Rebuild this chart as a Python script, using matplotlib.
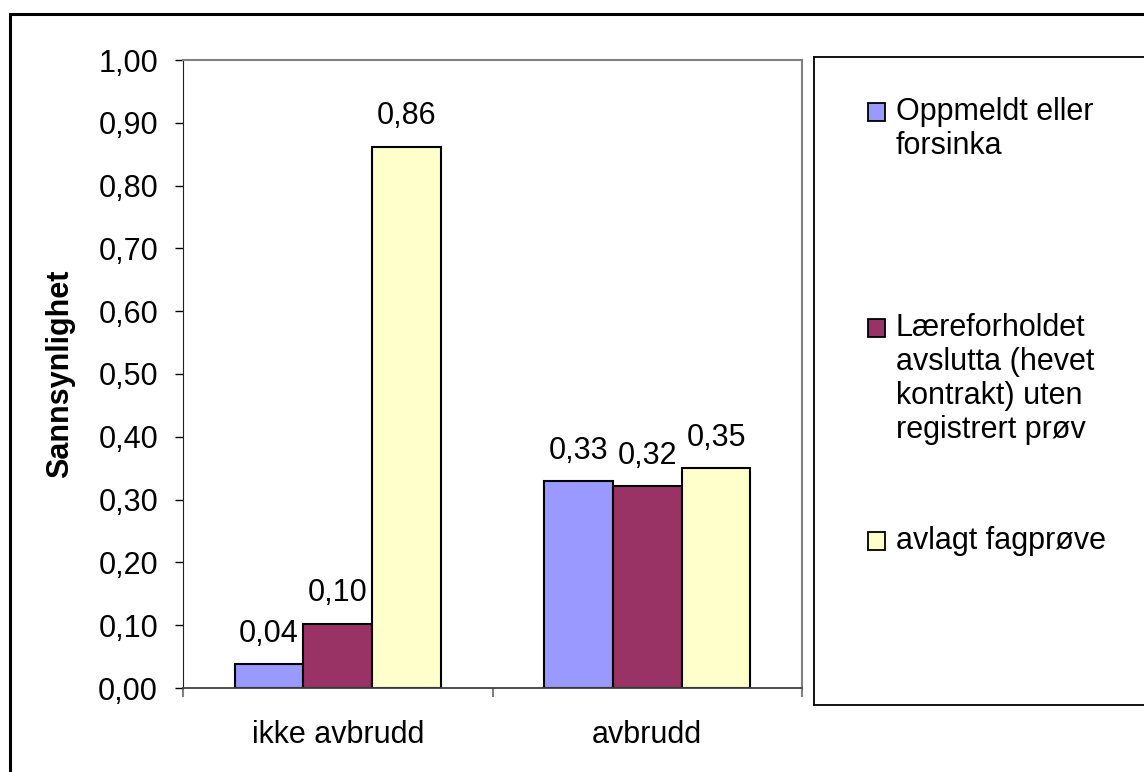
import matplotlib
matplotlib.use("Agg")
import matplotlib.pyplot as plt
from matplotlib.patches import Rectangle
import numpy as np

plt.rcParams['font.family'] = ['Liberation Sans', 'DejaVu Sans']

categories = ["ikke avbrudd", "avbrudd"]
series_names = [
    "Oppmeldt eller\nforsinka",
    "Læreforholdet\navslutta (hevet\nkontrakt) uten\nregistrert prøv",
    "avlagt fagprøve",
]
oppmeldt = [0.038, 0.329]
avslutta = [0.102, 0.321]
fagprove = [0.862, 0.350]
colors = ["#9999FF", "#993366", "#FFFFCC"]
yticks = [0.0, 0.1, 0.2, 0.3, 0.4, 0.5, 0.6, 0.7, 0.8, 0.9, 1.0]

W, H = 1144, 772
FS = 22
fig = plt.figure(figsize=(W / 100, H / 100), dpi=100)

def fbox(x0, y0, x1, y1):
    # picture pixel box -> figure fraction rect
    return [x0 / W, 1 - y1 / H, (x1 - x0) / W, (y1 - y0) / H]

# outer chart frame (runs off the right and bottom edge)
fig.patches.append(Rectangle((10 / W, -0.05), 1.1, 1 - 13.5 / H + 0.05,
                             transform=fig.transFigure, fill=False,
                             edgecolor="black", linewidth=2.2))

ax = fig.add_axes(fbox(183, 60, 802, 688))
x = np.arange(len(categories))
bw = 1 / 4.5
for i, vals in enumerate([oppmeldt, avslutta, fagprove]):
    pos = x + (i - 1) * bw
    ax.bar(pos, vals, bw, color=colors[i], edgecolor="black",
           linewidth=1.5, label=series_names[i])
    for p, v in zip(pos, vals):
        ax.annotate(f"{v:.2f}".replace(".", ","), (p, v), xytext=(0, 22),
                    textcoords="offset points", ha="center", va="center",
                    fontsize=FS)

ax.set_xlim(-0.5, 1.5)
ax.set_ylim(0, 1)
ax.set_yticks(yticks)
ax.set_yticklabels([f"{t:.2f}".replace(".", ",") for t in yticks])
ax.tick_params(axis="y", direction="out", length=6, width=1, pad=12,
               labelsize=FS, color="black")
ax.set_xticks(x)
ax.set_xticklabels(categories)
ax.tick_params(axis="x", length=0, pad=23, labelsize=FS)
ax.set_xticks([-0.5, 0.5, 1.5], minor=True)
ax.tick_params(axis="x", which="minor", direction="out", length=6.5,
               width=1.5, color="#808080")
for s in ["top", "right"]:
    ax.spines[s].set_color("#808080")
    ax.spines[s].set_linewidth(1.5)
ax.spines["left"].set_color("#202020")
ax.spines["bottom"].set_color("#404040")
ax.spines["bottom"].set_linewidth(1.3)

fig.text(60 / W, 1 - 374 / H, "Sannsynlighet", rotation=90, ha="center",
         va="center", fontsize=FS, fontweight="bold")

# legend box drawn in picture pixel coordinates
lax = fig.add_axes(fbox(814, 57, 1160, 705))
lax.set_xlim(814, 1160)
lax.set_ylim(705, 57)
lax.set_xticks([])
lax.set_yticks([])
for s in lax.spines.values():
    s.set_color("black")
    s.set_linewidth(1.3)
lax.spines["right"].set_visible(False)
first_line = [112, 328, 541]
for i, name in enumerate(series_names):
    y0 = first_line[i]
    lax.add_patch(Rectangle((868, y0 - 9), 17, 18, facecolor=colors[i],
                            edgecolor="black", linewidth=1.3))
    for k, line in enumerate(name.split("\n")):
        lax.text(896, y0 + 34 * k, line, ha="left", va="center", fontsize=FS)

fig.savefig("out.png", dpi=100)
